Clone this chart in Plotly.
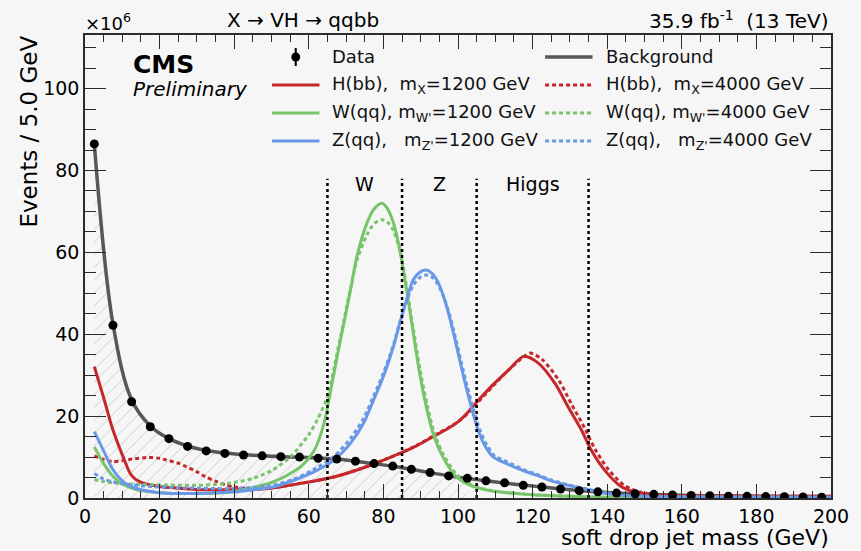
import plotly.graph_objects as go

# ---------------------------------------------------------------- data (units of 10^6 events per 5 GeV)
MASS_BINS = [2.5, 7.5, 12.5, 17.5, 22.5, 27.5, 32.5, 37.5, 42.5, 47.5,
             52.5, 57.5, 62.5, 67.5, 72.5, 77.5, 82.5, 87.5, 92.5, 97.5,
             102.5, 107.5, 112.5, 117.5, 122.5, 127.5, 132.5, 137.5, 142.5, 147.5,
             152.5, 157.5, 162.5, 167.5, 172.5, 177.5, 182.5, 187.5, 192.5, 197.5]
DATA = [86.5, 42.2, 23.5, 17.4, 14.5, 12.6, 11.5, 10.9, 10.5, 10.3,
        10.1, 10.0, 9.7, 9.5, 9.0, 8.4, 7.8, 7.0, 6.2, 5.4,
        4.8, 4.2, 3.7, 3.1, 2.7, 2.2, 1.8, 1.5, 1.2, 1.05,
        0.9, 0.75, 0.6, 0.55, 0.45, 0.4, 0.35, 0.3, 0.25, 0.2]
BACKGROUND = [86.5, 42.5, 24.0, 17.6, 14.5, 12.7, 11.6, 11.0, 10.6, 10.3,
              10.1, 9.95, 9.75, 9.5, 9.0, 8.4, 7.75, 7.0, 6.2, 5.45,
              4.8, 4.2, 3.65, 3.15, 2.7, 2.25, 1.85, 1.5, 1.22, 1.02,
              0.87, 0.74, 0.62, 0.53, 0.45, 0.39, 0.33, 0.28, 0.24, 0.2]
HATCH_MAX_MASS = 105

H1200_X = [2.5, 4.9, 7.5, 10.2, 12.4, 14.6, 19.9, 25, 29.6, 35, 40, 45, 50, 58, 67, 75.6,
           84.4, 89, 93.3, 97, 100, 102, 104.8, 109.2, 113.6, 117.6, 121.6, 126, 129.5,
           133.1, 135.7, 139.3, 143.7, 148, 152, 160, 180, 200]
H1200_Y = [32.1, 24.8, 16.6, 10.1, 5.6, 4.0, 2.8, 2.4, 2.1, 2.0, 2.0, 2.1, 2.4, 3.6, 5.2, 7.7,
           10.9, 12.8, 15.0, 16.8, 18.6, 20.3, 23.2, 27.5, 31.3, 34.6, 32.9, 28.0, 22.3,
           16.6, 11.7, 6.8, 2.8, 1.3, 0.8, 0.6, 0.5, 0.4]

H4000_X = [2.5, 5, 7.5, 10, 12.5, 17.2, 20, 21.7, 25, 27, 30, 32.3, 35, 37.6, 40, 42.9,
           50, 58, 67, 75.6, 84.4, 89, 93.3, 99.5, 102, 104.8, 109.2, 113.6, 117.6, 119.4,
           122.6, 127, 130.5, 134, 136.7, 140.3, 144.7, 149, 153, 160, 180, 200]
H4000_Y = [10.3, 9.4, 8.9, 9.1, 9.5, 9.9, 9.7, 9.3, 8.5, 7.7, 6.4, 5.2, 4.1, 3.2, 2.7, 2.4,
           2.5, 3.6, 5.2, 7.7, 10.9, 12.9, 15.1, 18.3, 20.1, 22.8, 27.2, 31.3, 34.5, 35.4,
           33.8, 28.8, 22.8, 17.0, 12.0, 7.0, 3.0, 1.4, 0.8, 0.6, 0.5, 0.4]

W1200_X = [2.5, 5, 7.5, 10, 12.5, 15, 20, 25, 30, 35, 40, 45, 50, 53.5, 57.9, 61.5, 64.1,
           65.9, 67.6, 69.4, 71.2, 72.9, 75.6, 77.5, 79.6, 81, 82.7, 84.4, 86.2, 88, 89.7,
           91.5, 93.3, 95.9, 99.5, 103.5, 108, 112, 120, 130, 140, 160, 200]
W1200_Y = [12.5, 8.4, 5.3, 3.4, 2.4, 1.8, 1.3, 1.1, 1.1, 1.2, 1.6, 2.5, 3.8, 5.2, 7.7, 11.7, 18.3,
           26.4, 34.5, 42.7, 50.9, 59.0, 67.2, 70.6, 72.0, 70.8, 67.2, 60.6, 50.9, 40.3, 30.5,
           22.3, 15.8, 10.1, 5.2, 3.0, 1.9, 1.4, 0.8, 0.4, 0.2, 0.1, 0.05]

W4000_X = [2.5, 5, 10, 15, 20, 25, 30, 35, 40, 45, 50, 55, 60, 62.5, 65, 67.6, 69.4, 71.2,
           73, 75.6, 77.5, 79.6, 81.2, 82.7, 84.6, 86.4, 88.2, 90, 91.8, 93.6, 96.2, 99.8,
           104, 108, 112, 120, 130, 140, 160, 200]
W4000_Y = [4.5, 4.0, 3.5, 3.3, 3.2, 3.1, 3.1, 3.3, 3.8, 4.8, 6.7, 10.0, 15.5, 19.5, 24.8, 35.5,
           43.3, 51.3, 58.3, 64.3, 67.0, 68.0, 67.3, 65.3, 59.8, 50.5, 40.3, 30.5, 22.5, 16.0,
           10.4, 5.6, 3.0, 2.0, 1.4, 0.8, 0.4, 0.2, 0.1, 0.05]

Z1200_X = [2.5, 5, 7.5, 10, 12.5, 15, 20, 25, 30, 35, 40, 45, 50, 56.2, 62.3, 66.8, 71.2,
           74.7, 77.4, 80, 82.7, 84.4, 86.2, 88, 90, 91.5, 93, 94.6, 96, 97.5, 99, 100.5,
           102.2, 104, 105.7, 107.5, 109.5, 112, 118, 121, 125, 130, 134, 138, 143, 150,
           160, 200]
Z1200_Y = [16.2, 11.5, 6.9, 4.2, 2.7, 2.0, 1.3, 1.1, 1.1, 1.3, 1.5, 2.0, 2.6, 4.4, 6.8, 9.3,
           13.4, 18.3, 24.0, 29.7, 37.0, 42.7, 48.4, 53.3, 55.3, 55.7, 54.9, 52.8, 49.6, 45.0,
           39.5, 33.5, 27.0, 20.8, 15.8, 12.3, 10.0, 8.8, 6.5, 5.6, 4.2, 3.0, 2.2, 1.4, 0.7,
           0.4, 0.3, 0.2]

Z4000_X = [2.5, 5, 7.5, 10, 15, 20, 25, 30, 35, 40, 45, 50, 56, 62, 66.8, 71.2, 74.7, 77.4,
           80, 82.7, 84.4, 86.2, 88, 90, 91.5, 93, 94.6, 96.2, 97.8, 99.3, 100.8, 102.5,
           104.3, 106, 107.8, 109.8, 112.3, 118, 121, 125, 130, 134, 138, 143, 150, 160, 200]
Z4000_Y = [6.0, 4.6, 3.9, 3.5, 3.0, 2.7, 2.5, 2.4, 2.3, 2.3, 2.6, 3.1, 4.6, 7.3, 10.2, 14.6,
           19.5, 25.0, 30.5, 37.5, 43.0, 48.0, 52.0, 54.0, 54.5, 54.0, 52.2, 49.0, 44.6,
           39.2, 33.5, 27.2, 21.2, 16.3, 12.8, 10.3, 9.2, 6.8, 5.8, 4.4, 3.1, 2.3, 1.5, 0.8,
           0.45, 0.3, 0.2]

# mass windows used in the analysis
WINDOW_EDGES = [65, 85, 105, 135]
WINDOW_TOP = 78
WINDOW_LABELS = ["W", "Z", "Higgs"]
WINDOW_LABEL_X = [75, 95, 120]
WINDOW_LABEL_Y = 76.8

X_TICKS = [0, 20, 40, 60, 80, 100, 120, 140, 160, 180, 200]
Y_TICKS = [0, 20, 40, 60, 80, 100]

# ---------------------------------------------------------------- style
FONT = "DejaVu Sans"
RED, GREEN, BLUE, GREY = "#c4282b", "#78c46a", "#6898e6", "#575757"
DASH = "4px,3px"
BG = "#f6f6f6"
AXIS = "#2b2b2b"

W, H = 861, 551
L, R, T, B = 85, 22, 35, 53


def px(x):
    """pixel column -> paper x"""
    return (x - L) / (W - L - R)


def py(y):
    """pixel row -> paper y"""
    return (H - B - y) / (H - T - B)


fig = go.Figure()

# hatched area below the background shape
hx = [m for m in MASS_BINS if m <= HATCH_MAX_MASS]
hy = BACKGROUND[:len(hx)]
fig.add_trace(go.Scatter(
    x=hx, y=hy, mode="lines", line=dict(width=0, shape="spline"),
    fill="tozeroy", fillcolor="rgba(0,0,0,0)",
    fillpattern=dict(shape="/", fgcolor="#9a9a9a", bgcolor="rgba(0,0,0,0)",
                     size=9, solidity=0.1),
    hoverinfo="skip"))

fig.add_trace(go.Scatter(x=MASS_BINS, y=BACKGROUND, mode="lines",
                         line=dict(color=GREY, width=3.5, shape="spline")))

signals = [
    (H1200_X, H1200_Y, RED, "solid"),
    (H4000_X, H4000_Y, RED, DASH),
    (W1200_X, W1200_Y, GREEN, "solid"),
    (W4000_X, W4000_Y, GREEN, DASH),
    (Z1200_X, Z1200_Y, BLUE, "solid"),
    (Z4000_X, Z4000_Y, BLUE, DASH),
]
for sx, sy, col, dash in signals:
    fig.add_trace(go.Scatter(x=sx, y=sy, mode="lines",
                             line=dict(color=col, width=3, dash=dash,
                                       shape="spline", smoothing=0.8)))

# window boundaries
vx, vy = [], []
for e in WINDOW_EDGES:
    vx += [e, e, None]
    vy += [0, WINDOW_TOP, None]
fig.add_trace(go.Scatter(x=vx, y=vy, mode="lines",
                         line=dict(color="black", width=2.5, dash="3px,3px")))

fig.add_trace(go.Scatter(x=MASS_BINS, y=DATA, mode="markers",
                         marker=dict(color="black", size=9)))

annotations = []
for lab, lx in zip(WINDOW_LABELS, WINDOW_LABEL_X):
    annotations.append(dict(x=lx, y=WINDOW_LABEL_Y, xref="x", yref="y", text=lab,
                            showarrow=False,
                            font=dict(family=FONT, size=19, color="black")))

# ---------------------------------------------------------------- legend (two columns)
ROWS = [57, 85, 113, 141]
LCOL_LINE, LCOL_TEXT = (274, 322), 333
RCOL_LINE, RCOL_TEXT = (550, 598), 610
shapes = []

# data entry: point with error bar
shapes.append(dict(type="line", xref="paper", yref="paper",
                   x0=px(298), x1=px(298), y0=py(ROWS[0] - 9), y1=py(ROWS[0] + 9),
                   line=dict(color="black", width=2)))
shapes.append(dict(type="circle", xref="paper", yref="paper",
                   x0=px(293.5), x1=px(302.5), y0=py(ROWS[0] + 4.5), y1=py(ROWS[0] - 4.5),
                   fillcolor="black", line=dict(color="black", width=0)))

entries_left = [
    ("Data", None, None),
    ("H(bb),  m<sub>X</sub>=1200 GeV", RED, "solid"),
    ("W(qq), m<sub>W'</sub>=1200 GeV", GREEN, "solid"),
    ("Z(qq),   m<sub>Z'</sub>=1200 GeV", BLUE, "solid"),
]
entries_right = [
    ("Background", GREY, "solid"),
    ("H(bb),  m<sub>X</sub>=4000 GeV", RED, DASH),
    ("W(qq), m<sub>W'</sub>=4000 GeV", GREEN, DASH),
    ("Z(qq),   m<sub>Z'</sub>=4000 GeV", BLUE, DASH),
]
for entries, (lx0, lx1), tx in ((entries_left, LCOL_LINE, LCOL_TEXT),
                                (entries_right, RCOL_LINE, RCOL_TEXT)):
    for (txt, col, dash), row in zip(entries, ROWS):
        if col is not None:
            shapes.append(dict(type="line", xref="paper", yref="paper",
                               x0=px(lx0), x1=px(lx1), y0=py(row), y1=py(row),
                               line=dict(color=col, width=3.5 if col == GREY else 3,
                                         dash=dash)))
        annotations.append(dict(x=px(tx), y=py(row), xref="paper", yref="paper",
                                text=txt, showarrow=False, xanchor="left",
                                yanchor="middle",
                                font=dict(family=FONT, size=18, color="#111")))

# ---------------------------------------------------------------- labels
annotations += [
    dict(x=px(131), y=py(64), text="<b>CMS</b>", xanchor="left", yanchor="middle",
         font=dict(family=FONT, size=25, color="black")),
    dict(x=px(131), y=py(89), text="<i>Preliminary</i>", xanchor="left",
         yanchor="middle", font=dict(family=FONT, size=20, color="black")),
    dict(x=px(305), y=py(20), text="X \u2192 VH \u2192 qqbb", xanchor="center",
         yanchor="middle", font=dict(family=FONT, size=20, color="black")),
    dict(x=px(839), y=py(20), text="35.9 fb<sup>-1</sup>  (13 TeV)", xanchor="right",
         yanchor="middle", font=dict(family=FONT, size=20, color="black")),
    dict(x=px(83), y=py(22), text="\u00d710<sup>6</sup>", xanchor="left",
         yanchor="middle", font=dict(family=FONT, size=18, color="black")),
    dict(x=px(839), y=py(537), text="soft drop jet mass (GeV)", xanchor="right",
         yanchor="middle", font=dict(family=FONT, size=22, color="black")),
    dict(x=px(28), y=py(132), text="Events / 5.0 GeV", textangle=-90,
         xanchor="center", yanchor="middle",
         font=dict(family=FONT, size=23, color="black")),
]
for a in annotations:
    a.setdefault("xref", "paper")
    a.setdefault("yref", "paper")
    a.setdefault("showarrow", False)

axis_common = dict(
    showgrid=False, zeroline=False, showline=True, linecolor=AXIS, linewidth=1.5,
    mirror="ticks", ticks="inside", tickcolor=AXIS, tickwidth=1.3,
    tickfont=dict(family=FONT, size=19, color="black"),
)

fig.update_layout(
    width=W, height=H,
    margin=dict(l=L, r=R, t=T, b=B),
    paper_bgcolor=BG, plot_bgcolor=BG,
    showlegend=False,
    shapes=shapes,
    annotations=annotations,
    xaxis=dict(range=[0, 200], tickvals=X_TICKS, ticklen=14,
               minor=dict(dtick=5, ticks="inside", ticklen=7, tickcolor=AXIS,
                          tickwidth=1.2),
               **axis_common),
    yaxis=dict(range=[0, 113.1], tickvals=Y_TICKS, ticklen=21,
               minor=dict(dtick=5, ticks="inside", ticklen=11, tickcolor=AXIS,
                          tickwidth=1.2),
               **axis_common),
)

fig.write_html("out.html")
